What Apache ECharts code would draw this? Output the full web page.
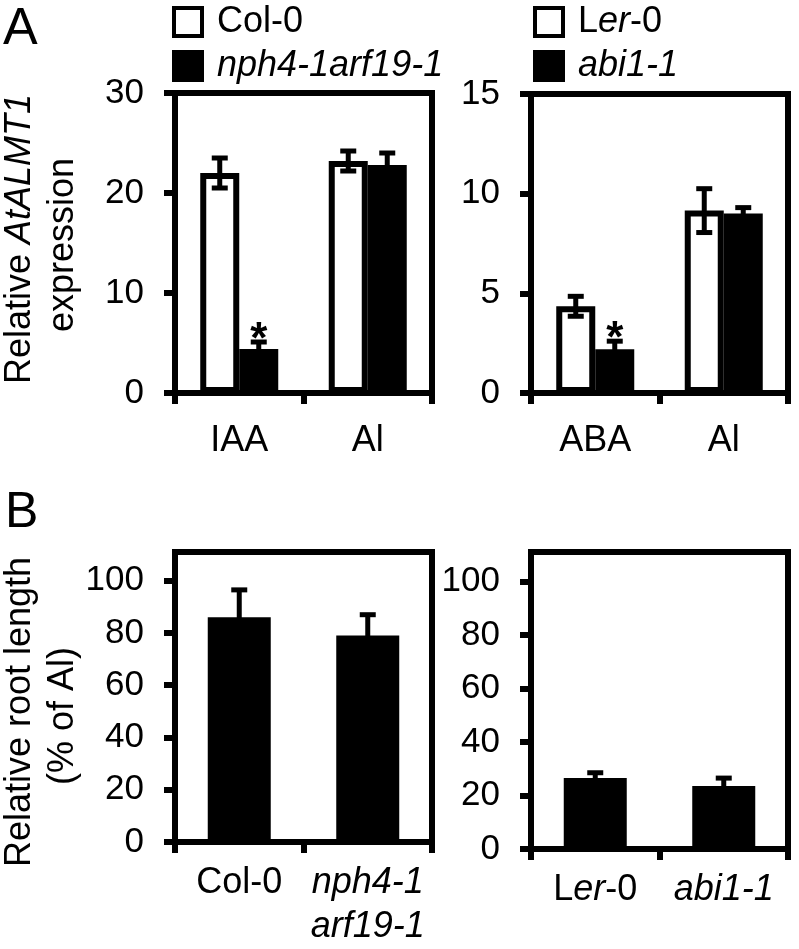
<!DOCTYPE html>
<html>
<head>
<meta charset="utf-8">
<script src="https://cdn.jsdelivr.net/npm/echarts@6/dist/echarts.min.js"></script>
<style>
html,body{margin:0;padding:0;background:#fff;}
#chart{width:799px;height:949px;}
</style>
</head>
<body>
<div id="chart"></div>
<script>
// ---------- DATA ----------
const catA1 = ['IAA', 'Al'];
const catA2 = ['ABA', 'Al'];
const catB1 = ['Col-0', 'nph4-1 arf19-1'];
const catB2 = ['Ler-0', 'abi1-1'];

const colA = [22.0, 23.2];      const colAErr = [1.5, 1.0];
const nphA = [4.4, 22.8];       const nphAErr = [0.7, 1.2];
const nphSig = [true, false];

const lerA = [4.35, 9.15];      const lerAErr = [0.5, 1.1];
const abiA = [2.2, 9.0];        const abiAErr = [0.4, 0.3];
const abiSig = [true, false];

const rootB1 = [86, 79];        const rootB1Err = [10.5, 8];
const rootB2 = [26.5, 23.5];    const rootB2Err = [2, 3];

const ticksA1 = [0, 10, 20, 30];
const ticksA2 = [0, 5, 10, 15];
const ticksB = [0, 20, 40, 60, 80, 100];

// ---------- STYLE ----------
const FONT = 'Liberation Sans, Arial, sans-serif';
const FS = 36;
const LW = 6;

function errRender(offset, capW, stars) {
  return function (params, api) {
    const i = api.value(0), v = api.value(1), e = api.value(2);
    const p0 = api.coord([i, v]);
    const pt = api.coord([i, v + e]);
    const pb = api.coord([i, v - e]);
    const x = p0[0] + offset;
    const st = { stroke: '#000', lineWidth: 5 };
    const ch = [
      { type: 'line', shape: { x1: x, y1: pt[1], x2: x, y2: pb[1] }, style: st },
      { type: 'line', shape: { x1: x - capW / 2, y1: pt[1], x2: x + capW / 2, y2: pt[1] }, style: st },
      { type: 'line', shape: { x1: x - capW / 2, y1: pb[1], x2: x + capW / 2, y2: pb[1] }, style: st }
    ];
    if (stars && stars[i]) {
      ch.push({ type: 'text', x: x, y: pt[1] - 1,
        style: { text: '*', fill: '#000', fontSize: 44, fontWeight: 'bold', fontFamily: FONT, align: 'center', verticalAlign: 'middle' } });
    }
    return { type: 'group', children: ch };
  };
}
function errSeries(gi, vals, errs, offset, stars) {
  return {
    type: 'custom', xAxisIndex: gi, yAxisIndex: gi, z: 5,
    renderItem: errRender(offset, 16, stars),
    encode: { x: 0, y: 1 },
    data: vals.map((v, i) => [i, v, errs[i]]),
    silent: true
  };
}

const rich = {
  n: { fontSize: FS, fontFamily: FONT, color: '#000' },
  i: { fontSize: FS, fontFamily: FONT, color: '#000', fontStyle: 'italic' }
};

function xAxisDef(gi, cats, margin, fmt) {
  return {
    type: 'category', gridIndex: gi, data: cats,
    axisLine: { show: true, lineStyle: { color: '#000', width: LW } },
    axisTick: { show: true, length: 11, interval: 0, lineStyle: { color: '#000', width: LW } },
    axisLabel: {
      interval: 0, margin: margin, color: '#000', fontSize: FS, fontFamily: FONT,
      lineHeight: 44, rich: rich, formatter: fmt || (v => '{n|' + v + '}')
    },
    splitLine: { show: false }
  };
}
function yAxisDef(gi, min, max, interval, ticks) {
  return {
    type: 'value', gridIndex: gi, min: min, max: max, interval: interval,
    axisLine: { show: true, lineStyle: { color: '#000', width: LW } },
    axisTick: { show: true, length: 11, lineStyle: { color: '#000', width: LW }, customValues: ticks },
    axisLabel: { margin: 31, color: '#000', fontSize: 35, fontFamily: FONT, customValues: ticks },
    splitLine: { show: false }
  };
}

const gridStyle = { show: true, borderColor: '#000', borderWidth: LW, backgroundColor: 'transparent' };

const fmtB1 = v => v === 'Col-0' ? '{n|Col-0}' : '{i|nph4-1}\n{i|arf19-1}';
const fmtLer = v => v === 'Ler-0' ? '{n|L}{i|er}{n|-0}' : '{i|' + v + '}';

const chart = echarts.init(document.getElementById('chart'), null, { renderer: 'canvas' });

const option = {
  animation: false,
  backgroundColor: '#fff',
  grid: [
    Object.assign({ left: 175, top: 93, width: 257, height: 300 }, gridStyle),
    Object.assign({ left: 531, top: 94, width: 257, height: 299 }, gridStyle),
    Object.assign({ left: 175, top: 552, width: 257, height: 297 }, gridStyle),
    Object.assign({ left: 531, top: 552, width: 257, height: 297 }, gridStyle)
  ],
  xAxis: [
    xAxisDef(0, catA1, 26),
    xAxisDef(1, catA2, 26),
    xAxisDef(2, catB1, 19, fmtB1),
    xAxisDef(3, catB2, 19, fmtLer)
  ],
  yAxis: [
    yAxisDef(0, 0, 30, 10, ticksA1),
    yAxisDef(1, 0, 15, 5, ticksA2),
    yAxisDef(2, 0, 111, 20, ticksB),
    yAxisDef(3, 0, 111, 20, ticksB)
  ],
  legend: [
    {
      data: [{ name: 'Col-0' }, { name: 'nph4-1arf19-1' }],
      orient: 'vertical', left: 172, top: 4, padding: 0,
      itemWidth: 28, itemHeight: 28, itemGap: 8, icon: 'rect', selectedMode: false,
      itemStyle: { borderWidth: 4, borderColor: '#000' },
      formatter: n => n === 'Col-0' ? '{n|Col-0}' : '{i|' + n + '}',
      textStyle: { fontSize: FS, fontFamily: FONT, color: '#000', padding: [0, 0, 0, 10], rich: rich }
    },
    {
      data: [{ name: 'Ler-0' }, { name: 'abi1-1' }],
      orient: 'vertical', left: 533, top: 4, padding: 0,
      itemWidth: 28, itemHeight: 28, itemGap: 8, icon: 'rect', selectedMode: false,
      itemStyle: { borderWidth: 4, borderColor: '#000' },
      formatter: fmtLer,
      textStyle: { fontSize: FS, fontFamily: FONT, color: '#000', padding: [0, 0, 0, 10], rich: rich }
    }
  ],
  graphic: [
    { type: 'text', left: 3, top: 4, style: { text: 'A', fontSize: 52, fontFamily: FONT, fill: '#000' } },
    { type: 'text', left: 5, top: 488, style: { text: 'B', fontSize: 50, fontFamily: FONT, fill: '#000' } },
    { type: 'text', x: 20, y: 239, rotation: Math.PI / 2,
      style: { text: '{n|Relative }{i|AtALMT1}', rich: rich, align: 'center', verticalAlign: 'middle' } },
    { type: 'text', x: 63, y: 245, rotation: Math.PI / 2,
      style: { text: 'expression', fontSize: FS, fontFamily: FONT, fill: '#000', align: 'center', verticalAlign: 'middle' } },
    { type: 'text', x: 20, y: 712, rotation: Math.PI / 2,
      style: { text: 'Relative root length', fontSize: FS, fontFamily: FONT, fill: '#000', align: 'center', verticalAlign: 'middle' } },
    { type: 'text', x: 63, y: 716, rotation: Math.PI / 2,
      style: { text: '(% of Al)', fontSize: FS, fontFamily: FONT, fill: '#000', align: 'center', verticalAlign: 'middle' } }
  ],
  series: [
    { name: 'Col-0', type: 'bar', xAxisIndex: 0, yAxisIndex: 0, data: colA, barWidth: 39, barGap: '0%',
      itemStyle: { color: '#fff', borderColor: '#000', borderWidth: LW } },
    { name: 'nph4-1arf19-1', type: 'bar', xAxisIndex: 0, yAxisIndex: 0, data: nphA, barWidth: 39, barGap: '0%',
      itemStyle: { color: '#000', borderColor: '#000', borderWidth: 0 } },
    errSeries(0, colA, colAErr, -19.5, null),
    errSeries(0, nphA, nphAErr, 19.5, nphSig),

    { name: 'Ler-0', type: 'bar', xAxisIndex: 1, yAxisIndex: 1, data: lerA, barWidth: 39, barGap: '0%',
      itemStyle: { color: '#fff', borderColor: '#000', borderWidth: LW } },
    { name: 'abi1-1', type: 'bar', xAxisIndex: 1, yAxisIndex: 1, data: abiA, barWidth: 39, barGap: '0%',
      itemStyle: { color: '#000', borderColor: '#000', borderWidth: 0 } },
    errSeries(1, lerA, lerAErr, -19.5, null),
    errSeries(1, abiA, abiAErr, 19.5, abiSig),

    { name: 'rootLeft', type: 'bar', xAxisIndex: 2, yAxisIndex: 2, data: rootB1, barWidth: 63,
      itemStyle: { color: '#000' } },
    errSeries(2, rootB1, rootB1Err, 0, null),
    { name: 'rootRight', type: 'bar', xAxisIndex: 3, yAxisIndex: 3, data: rootB2, barWidth: 63,
      itemStyle: { color: '#000' } },
    errSeries(3, rootB2, rootB2Err, 0, null)
  ]
};
chart.setOption(option);
</script>
</body>
</html>
